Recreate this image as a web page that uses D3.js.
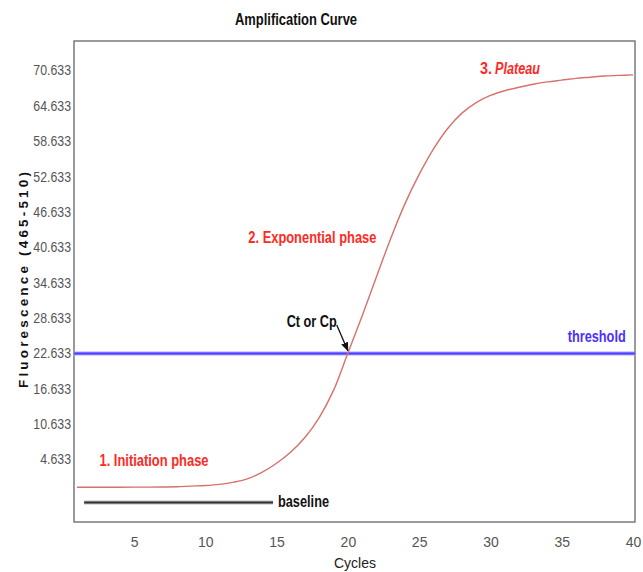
<!DOCTYPE html>
<html>
<head>
<meta charset="utf-8">
<script src="https://cdn.jsdelivr.net/npm/d3@7"></script>
<style>
  html, body { margin: 0; padding: 0; background: #fff; }
  svg { display: block; }
</style>
</head>
<body>
<div id="chart"></div>
<script>
// ---- data ----
const cycles = [1,2,3,4,5,6,7,8,9,10,11,12,13,14,15,16,17,18,19,20,21,22,23,24,25,26,27,28,29,30,31,32,33,34,35,36,37,38,39,40];
const fluorescence = [-0.08,-0.08,-0.07,-0.07,-0.06,-0.05,-0.03,0.0,0.12,0.22,0.42,0.8,1.4,2.5,4.0,5.9,8.4,11.8,16.4,22.7,29.0,35.6,42.1,48.0,53.0,57.3,60.8,63.4,65.2,66.4,67.2,67.8,68.3,68.7,69.0,69.3,69.5,69.7,69.8,69.9];
const thresholdValue = 22.633;
const baselineCycles = [1.5, 14.75];
const baselineLevel = -2.66;
const yTickValues = [4.633,10.633,16.633,22.633,28.633,34.633,40.633,46.633,52.633,58.633,64.633,70.633];
const yTickLabels = ["4.633","10.633","16.633","22.633","28.633","34.633","40.633","46.633","52.633","58.633","64.633","70.633"];
const xTickValues = [5,10,15,20,25,30,35,40];
const xTickLabels = ["5","10","15","20","25","30","35","40"];

(function () {
// ---- layout ----
const W = 643, H = 572;
const pL = 74, pR = 635, pT = 41, pB = 522;
const narrow = "'Liberation Sans Narrow','Arial Narrow','Liberation Sans',Arial,sans-serif";

const svg = d3.select("#chart").append("svg").attr("width", W).attr("height", H);
svg.append("rect").attr("width", W).attr("height", H).attr("fill", "#fff");

const x = d3.scaleLinear().domain([0.79, 40.14]).range([pL, pR]);
const y = d3.scaleLinear().domain([-5.97, 75.64]).range([pB, pT]);

// title
svg.append("text").attr("x", 296).attr("y", 25).attr("text-anchor", "middle")
  .attr("font-family", narrow).attr("font-weight", "bold").attr("font-size", 16)
  .attr("fill", "#111").attr("textLength", 122).attr("lengthAdjust", "spacingAndGlyphs")
  .text("Amplification Curve");

// frame
svg.append("rect").attr("x", pL).attr("y", pT).attr("width", pR - pL).attr("height", pB - pT)
  .attr("fill", "none").attr("stroke", "#7a7a7a").attr("stroke-width", 1.5);

// axes
const yAxis = d3.axisLeft(y).tickValues(yTickValues).tickFormat((d, i) => yTickLabels[i]).tickSize(0).tickPadding(3);
const gy = svg.append("g").attr("transform", `translate(${pL},0)`).call(yAxis);
gy.select(".domain").remove();
gy.selectAll("text").attr("font-family", narrow).attr("font-size", 14).attr("fill", "#555")
  .attr("textLength", function () { return this.getComputedTextLength() * 0.88; })
  .attr("lengthAdjust", "spacingAndGlyphs");

const xAxis = d3.axisBottom(x).tickValues(xTickValues).tickFormat((d, i) => xTickLabels[i]).tickSize(0).tickPadding(15);
const gx = svg.append("g").attr("transform", `translate(0,${pB})`).call(xAxis);
gx.select(".domain").remove();
gx.selectAll("text").attr("font-family", narrow).attr("font-size", 14).attr("fill", "#555");

// axis titles
svg.append("text").attr("x", 355).attr("y", 568).attr("text-anchor", "middle")
  .attr("font-family", narrow).attr("font-size", 14).attr("fill", "#222").text("Cycles");
svg.append("text").attr("transform", "translate(28,280) rotate(-90)").attr("text-anchor", "middle")
  .attr("font-family", "'Liberation Sans',Arial,sans-serif").attr("font-weight", "bold").attr("font-size", 13.5)
  .attr("fill", "#111").attr("textLength", 216).attr("lengthAdjust", "spacing")
  .text("Fluorescence (465-510)");

// threshold line
const thr = [[x.domain()[0], thresholdValue], [x.domain()[1], thresholdValue]];
const lineGen = d3.line().x(d => x(d[0])).y(d => y(d[1]));
svg.append("path").attr("d", lineGen(thr)).attr("stroke", "#aaa2ff").attr("stroke-width", 4).attr("fill", "none");
svg.append("path").attr("d", lineGen(thr)).attr("stroke", "#4b3cff").attr("stroke-width", 2).attr("fill", "none");

// baseline segment
const bl = baselineCycles.map(c => [c, baselineLevel]);
svg.append("path").attr("d", lineGen(bl)).attr("stroke", "#bdbdbd").attr("stroke-width", 4).attr("fill", "none");
svg.append("path").attr("d", lineGen(bl)).attr("stroke", "#333").attr("stroke-width", 2).attr("fill", "none");

// amplification curve
const curve = d3.line().x((d, i) => x(cycles[i])).y(d => y(d)).curve(d3.curveCatmullRom.alpha(0.5));
svg.append("path").attr("d", curve(fluorescence)).attr("stroke", "#d8706c").attr("stroke-width", 1.4).attr("fill", "none");

// arrow Ct
svg.append("defs").append("marker").attr("id", "arr").attr("viewBox", "0 0 10 10")
  .attr("refX", 9).attr("refY", 5).attr("markerWidth", 7).attr("markerHeight", 7).attr("orient", "auto")
  .append("path").attr("d", "M0,1 L10,5 L0,9 Z").attr("fill", "#111");
svg.append("path").attr("d", lineGen([[19.22, 27.45], [20.0, 23.1]]))
  .attr("stroke", "#111").attr("stroke-width", 1.3).attr("fill", "none").attr("marker-end", "url(#arr)");

// annotations (data coordinates)
function label(cx, cy, txt, color, width, italic) {
  return svg.append("text").attr("x", x(cx)).attr("y", y(cy))
    .attr("font-family", narrow).attr("font-weight", "bold").attr("font-size", 16)
    .attr("font-style", italic ? "italic" : "normal")
    .attr("fill", color).attr("textLength", width).attr("lengthAdjust", "spacingAndGlyphs").text(txt);
}
label(2.58, 3.45, "1. Initiation phase", "#ff2a1f", 109);
label(13.02, 41.32, "2. Exponential phase", "#ff2a1f", 128);
label(29.27, 70.04, "3.", "#ff2a1f", 12);
label(30.32, 70.04, "Plateau", "#ff2a1f", 45, true);
label(15.71, 27.18, "Ct or Cp", "#111", 50);
label(35.42, 24.62, "threshold", "#4b30ff", 58);
label(15.1, -3.43, "baseline", "#111", 51);
})();
</script>
</body>
</html>
